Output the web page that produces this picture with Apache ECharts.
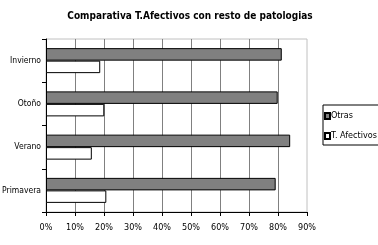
<!DOCTYPE html>
<html><head><meta charset="utf-8">
<script src="https://cdn.jsdelivr.net/npm/echarts@6/dist/echarts.min.js"></script>
<style>html,body{margin:0;padding:0;background:#fff}#c{width:378px;height:245px}</style>
</head><body><div id="c"></div>
<script>
var categories = ['Primavera', 'Verano', 'Otoño', 'Invierno'];
var otras = [79.2, 84.2, 79.9, 81.3];
var afectivos = [20.8, 15.8, 20.1, 18.7];
var xTicks = [0, 10, 20, 30, 40, 50, 60, 70, 80, 90];
var FONT = '"DejaVu Sans Condensed", "Liberation Sans", sans-serif';
var chart = echarts.init(document.getElementById('c'));
chart.setOption({
  animation: false,
  title: {
    text: 'Comparativa T.Afectivos con resto de patologias',
    left: 185, top: 6, textAlign: 'center',
    textStyle: {fontFamily: FONT, fontSize: 10, fontWeight: 'bold', color: '#000'}
  },
  legend: {
    orient: 'vertical', left: 323, top: 105,
    data: ['Otras', 'T. Afectivos'],
    icon: 'rect',
    itemWidth: 5, itemHeight: 6, itemGap: 10,
    padding: [6, 2, 4, 1],
    borderColor: '#000', borderWidth: 1,
    textStyle: {fontFamily: FONT, fontSize: 9, lineHeight: 10, color: '#000', padding: [0, 0, 0, -4]}
  },
  grid: {left: 46, right: 71, top: 39, bottom: 33, outerBoundsMode: 'none', containLabel: false,
    show: true, borderColor: '#c0c0c0', borderWidth: 1},
  xAxis: {
    type: 'value', min: 0, max: 90, interval: 10,
    axisLine: {show: true, lineStyle: {color: '#000'}},
    axisTick: {show: true, length: 4, lineStyle: {color: '#000'}},
    axisLabel: {fontFamily: FONT, fontSize: 9, color: '#000', margin: 11,
      formatter: function (v) { return v + '%'; }},
    splitLine: {show: true, showMaxLine: false, lineStyle: {color: '#808080'}}
  },
  yAxis: {
    type: 'category', data: categories,
    axisLine: {show: true, lineStyle: {color: '#000'}},
    axisTick: {show: true, length: 4, lineStyle: {color: '#000'}},
    axisLabel: {fontFamily: FONT, fontSize: 8.5, color: '#000', margin: 5}
  },
  series: [
    {name: 'Otras', type: 'bar', data: otras, barWidth: 12.5, barGap: '0%',
      itemStyle: {color: '#808080', borderColor: '#000', borderWidth: 1}},
    {name: 'T. Afectivos', type: 'bar', data: afectivos, barWidth: 12.5, barGap: '0%',
      itemStyle: {color: '#fff', borderColor: '#000', borderWidth: 1}}
  ]
});
</script></body></html>
